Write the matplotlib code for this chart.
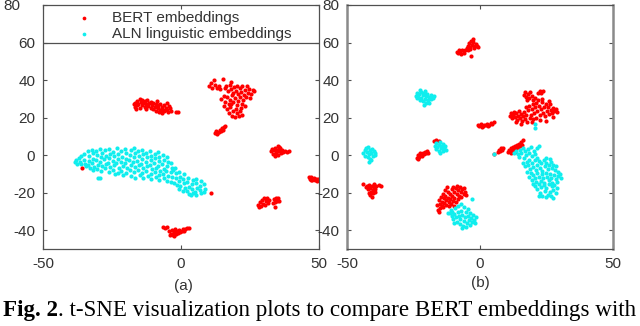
import numpy as np
import matplotlib
matplotlib.use("Agg")
import matplotlib.pyplot as plt
from matplotlib.transforms import ScaledTranslation

plt.rcParams["font.family"] = ["Liberation Sans", "DejaVu Sans"]
plt.rcParams["axes.unicode_minus"] = False

## (a) - points read cluster by cluster from the picture

bert_a_left = [(-17, 27), (-16.8, 25.5), (-16.5, 28), (-16, 26.5), (-15.8, 29), (-15.5, 27.5), (-15, 25), (-15, 30),
               (-14.6, 28.5), (-14.2, 26.8), (-14, 29.5), (-13.6, 27.8), (-13.2, 25.8), (-13, 28.7), (-12.6, 27),
               (-12.2, 29.2), (-12, 26), (-11.5, 27.6), (-11, 25), (-11, 28.5), (-10.5, 26.5), (-10, 24.5), (-10, 28),
               (-9.6, 25.8), (-9.2, 27.2), (-9, 23.5), (-8.8, 29), (-8.5, 25), (-8.2, 26.8), (-8, 23), (-7.6, 24.2),
               (-7.5, 27.5), (-7, 25.6), (-7, 22.5), (-6.6, 24), (-6.2, 26.5), (-6, 23.4), (-5.6, 25), (-5.2, 27.8),
               (-5, 24.2), (-4.6, 22.8), (-4.5, 26), (-4, 25), (-3.5, 23.5), (-16.2, 24.8), (-2, 23), (-1.2, 23.2),
               (-12.8, 24.5)]

bert_a_top = [(10.2, 37), (10.8, 38.4), (11.4, 36), (12, 40), (12.4, 37.6), (13, 35.6), (13.6, 36.8), (14.2, 35),
              (15.3, 40.5), (16, 36), (18, 39),
              (16.4, 36.8), (17, 34), (17.6, 37.4), (18.2, 35.2), (18.8, 33), (19.2, 36.4), (19.8, 34.4), (20.2, 37),
              (20.8, 32.6), (21.2, 35.6), (21.8, 33.8), (22.2, 36.6), (22.8, 32), (23.2, 34.8), (23.8, 36.8),
              (24.2, 33.2), (24.8, 35.4), (25.4, 32.6), (26, 34.6), (26.6, 34.2), (25, 30.4), (23.6, 30.8),
              (14.6, 30), (15.4, 31.6), (16, 28.4), (16.6, 30.8), (17.2, 27.2), (17.8, 29.6), (18.4, 31.8),
              (19, 28.2), (19.6, 30.4), (20.2, 26.6), (20.8, 29), (21.4, 31.2), (22, 27.4), (22.6, 29.6),
              (23.2, 26.2), (15.6, 26.4), (21.8, 25.2),
              (16.6, 24.6), (17.2, 22.4), (17.8, 25.4), (18.4, 21), (18.8, 23.6), (19.4, 20.2), (19.8, 24.8),
              (20.4, 22.2), (21, 20.6), (21.4, 23.6), (22, 21.4), (18, 27)]

bert_a_small = [(12.4, 11.6), (12.8, 12.6), (13.2, 11.2), (13.6, 12.4), (14, 13.4), (14.4, 12.6), (14.8, 14.2),
                (15.2, 13.6), (15.6, 15), (16, 15.6), (13, 12)]

bert_a_right = [(32.5, 2), (33, 3.5), (33.4, 0.8), (33.8, 2.6), (34.2, 4), (34.4, 1.4), (34.8, 3), (35, 0.2),
                (35.2, 5), (35.6, 2), (36, 3.6), (36.2, 1), (36.6, 2.6), (37, 1.8), (37.6, 2.4), (38.4, 1.8),
                (39, 2.2), (34, -0.5), (35.5, 4.2)]

bert_a_edge = [(46.2, -11.8), (46.8, -12.6), (47.2, -11.6), (47.6, -13), (48, -12.2), (48.4, -13.4), (48.8, -12.6),
               (49.2, -13.6), (49.6, -12.8), (47, -13.4)]

bert_a_mid = [(28, -26.5), (28.6, -25), (29, -27), (29.4, -24), (29.8, -25.8), (30.2, -23), (30.4, -26.6),
              (30.8, -24.6), (31.2, -22.8), (31.4, -25.6), (31.8, -24), (28.4, -27.8),
              (33.6, -23.4), (34, -25), (34.4, -22.6), (34.8, -24.2), (35.2, -23), (35.6, -24.6), (34.2, -27.4),
              (33.2, -25.6)]

bert_a_bottom = [(-6.4, -38.2), (-5.8, -38.6), (-5.2, -38.4), (-4.4, -40.6), (-3.8, -41.8), (-3.4, -40), (-3, -42.6),
                 (-2.6, -41.2), (-2.2, -39.6), (-1.8, -42), (-1.4, -40.6), (-1, -41.6), (-0.6, -39.8), (-0.2, -41),
                 (0.2, -40.2), (0.6, -39.4), (1, -40.4), (1.4, -39.6), (2, -39), (2.8, -38.6), (-4, -42.8),
                 (-2.4, -43)]

bert_a_single = [(-36, -6.6), (11, -20.4)]

aln_a_band = [(-38.5, -3.5), (-38, -2.5), (-37.6, -4.6),
              (-36.8, -1.5), (-36.5, -3.8), (-36.4, -4.8), (-36.2, -0.3),
              (-35.2, 0.8), (-35, -2.6), (-34.8, -4.5), (-34.6, -6),
              (-33.8, 2), (-33.5, -0.5), (-33.2, -3), (-33.6, -5.4), (-33, -7),
              (-32.2, 3), (-32, 1), (-31.8, -1.8), (-32.4, -4), (-31.6, -6.2), (-32, -8),
              (-30.7, 2.4), (-30.4, 0), (-30.8, -2.8), (-30.2, -5), (-30.6, -7.6), (-30, -12), (-29.4, -12.2),
              (-29.2, 3.4), (-28.8, 1.2), (-29, -1), (-29.4, -3.6), (-28.6, -6), (-29, -8.2),
              (-27.6, 2.6), (-27.3, -0.2), (-27.8, -2.2), (-27.2, -4.6), (-27.6, -7),
              (-26.2, 3.2), (-25.8, 0.8), (-26, -1.6), (-26.4, -4), (-25.6, -6.4), (-26, -9),
              (-24.6, 1.8), (-24.3, -0.6), (-24.8, -3), (-24.2, -5.4), (-24.6, -8), (-24, -10),
              (-23.2, 3.6), (-22.8, 0.4), (-23, -2), (-23.4, -4.4), (-22.6, -6.8), (-23, -9.4),
              (-21.6, 2.2), (-21.3, -0.8), (-21.8, -3.4), (-21.2, -5.8), (-21.6, -8.2), (-21, -10.6),
              (-20.2, 3.4), (-19.8, 1), (-20, -1.8), (-20.4, -4.2), (-19.6, -7), (-20, -9.6),
              (-18.6, 0), (-18.3, 2.6), (-18.8, -2.6), (-18.2, -5), (-18.6, -7.8), (-18, -11),
              (-17.2, 3.8), (-16.8, 1.2), (-17, -1.2), (-17.4, -3.8), (-16.6, -6.2), (-17, -9), (-16.8, -12),
              (-15.6, 2), (-15.3, -0.6), (-15.8, -3), (-15.2, -5.4), (-15.6, -8), (-15, -10.4),
              (-14.2, 2.8), (-13.8, 0.4), (-14, -2), (-14.4, -4.6), (-13.6, -7), (-14, -9.4), (-13.8, -12.4),
              (-12.6, 1.4), (-12.3, -1), (-12.8, -3.6), (-12.2, -6), (-12.6, -8.6), (-12, -11),
              (-11.2, 2.4), (-10.8, -0.2), (-11, -2.6), (-11.4, -5), (-10.6, -7.4), (-11, -10), (-10.8, -12.8),
              (-9.6, 0.8), (-9.3, -1.6), (-9.8, -4), (-9.2, -6.6), (-9.6, -9), (-9, -11.6),
              (-8.2, 1.6), (-7.8, -1), (-8, -3.2), (-8.4, -5.8), (-7.6, -8.2), (-8, -10.6), (-7.8, -13.4),
              (-6.6, 0), (-6.3, -2.4), (-6.8, -4.8), (-6.2, -7.2), (-6.6, -9.8), (-6, -12.2),
              (-5.2, -1), (-4.8, -3.6), (-5, -6), (-5.4, -8.4), (-4.6, -11), (-5, -13.6),
              (-3.6, -4.4), (-3.3, -6.8), (-3.8, -9.2), (-3.2, -11.8), (-3.6, -14.4), (-3, -8),
              (-2.2, -7), (-1.8, -9.4), (-2, -12), (-2.4, -14.8), (-1.6, -16),
              (-0.6, -9), (-0.3, -11.4), (-0.8, -13.8), (-0.2, -16.2), (-0.6, -18),
              (1.2, -10), (0.8, -12.6), (1, -15), (1.4, -17.4), (0.6, -19),
              (2.6, -12), (2.3, -14.4), (2.8, -16.8), (2.2, -19.2), (2.8, -20.6),
              (4.2, -13.2), (3.8, -15.6), (4, -18), (4.4, -20.4), (3.6, -21.4),
              (5.6, -12.6), (5.3, -15), (5.8, -17.4), (5.2, -19.6), (5.6, -21.2),
              (7.2, -14), (6.8, -16.4), (7, -18.6), (7.4, -20.4),
              (8.4, -15.6), (8.6, -17.8), (8.2, -19.6)]

## (b)

bert_b_top = [(-8.6, 55.2), (-8.2, 54.2), (-7.8, 56), (-7.4, 55), (-7, 54), (-6.6, 55.8), (-6.2, 54.6), (-5.8, 56.2),
              (-3.4, 52.8), (-4.6, 58), (-4, 59.6), (-3.6, 57.4), (-3.2, 61), (-3, 58.6), (-2.6, 60.2), (-2.4, 57),
              (-2, 58.2), (-1.6, 59.4), (-1.2, 58), (-0.8, 57.6), (-3.8, 56.4), (-2.8, 62), (-5, 57), (-4.4, 56)]

bert_b_big = [(16.4, 32), (17, 33.6), (17.4, 31), (18, 32.6), (18.4, 30.2), (18.8, 33.8), (19.4, 31.4), (19.8, 29.6),
              (17.6, 29.4), (21.8, 33), (22.4, 34.4), (23, 33.2), (23.6, 34), (20.6, 30.4),
              (11.2, 21), (11.6, 22.6), (12, 19.6), (12.4, 21.6), (12.8, 23), (13.2, 20.4), (13.6, 22.2), (14, 18.6),
              (14.2, 21), (14.6, 23.4), (15, 19.8), (15.4, 22), (15.8, 18), (16.2, 20.6), (16.6, 22.8), (17, 19.2),
              (17.4, 21.4), (17.8, 17.4), (13.4, 17.8), (15.6, 16.8),
              (18.2, 23.8), (18.6, 26), (19, 21.6), (19.4, 24.6), (19.8, 27.2), (20.2, 22.6), (20.6, 25.4), (21, 20),
              (21.2, 27.8), (21.6, 23.6), (22, 26), (22.4, 21.4), (22.8, 24.6), (23.2, 28.4), (23.6, 22.6),
              (24, 25.6), (24.4, 20.6), (24.8, 27), (25.2, 23.6), (25.6, 25.8), (26, 21.8), (26.4, 27.2),
              (26.8, 24.2), (27.2, 22.4), (27.6, 25.2), (28, 23.4), (28.6, 24.6), (29, 22.8), (20, 19.4),
              (22.6, 18.6), (25, 18.2), (23.4, 30), (26, 29), (21.8, 29.6), (19.6, 17.6), (18.8, 19.8),
              (27.6, 20.2), (17.2, 25.6)]

bert_b_small = [(-0.8, 16.2), (-0.2, 15.6), (0.4, 16.6), (1, 15.4), (1.6, 16.2), (2.2, 15.8), (2.8, 16.8),
                (3.4, 16.2), (4, 17.2), (4.6, 16.8), (5.2, 17.6), (0.6, 15), (3, 15.6)]

bert_b_left = [(-23.6, -1.4), (-23.2, 0), (-22.8, -0.8), (-22.6, 1), (-22.2, 0.2), (-21.8, -0.4), (-21.6, 1.4),
               (-21.2, 0.6), (-20.8, 1.6), (-20.4, 1), (-20, 2), (-19.6, 1.4), (-23.4, -2),
               (-17.4, 7.8), (-16.6, 8), (-15.6, 7.6)]

bert_b_far = [(-43.8, -15.4), (-43, -17), (-42.4, -16.4), (-42, -18.2), (-41.6, -15.8), (-41.4, -17.6),
              (-41, -19.4), (-40.6, -16.4), (-40.4, -18.6), (-40, -17.2), (-39.8, -15.2), (-39.4, -18),
              (-39, -16.6), (-38, -15.8), (-37.4, -16.6), (-41.2, -21.4), (-40.6, -22.2), (-40.2, -20.4),
              (-41.8, -20), (-39.6, -19.6)]

bert_b_low = [(-15.6, -24), (-15.2, -26), (-15, -28.4), (-14.8, -22.4), (-14.4, -24.8), (-14.2, -27), (-14, -20.6),
              (-13.6, -23), (-13.4, -25.6), (-13, -21.6), (-12.8, -24), (-12.6, -26.4), (-12.2, -19.4),
              (-12, -22.6), (-11.8, -25), (-11.4, -20.6), (-11.2, -23.6), (-10.8, -26), (-10.6, -18.2),
              (-10.4, -21.8), (-10, -24.2), (-9.8, -19.6), (-9.6, -22.6), (-9.2, -25), (-9, -17.6), (-8.8, -20.8),
              (-8.4, -23.4), (-8.2, -18.8), (-7.8, -21.6), (-7.6, -17), (-7.2, -19.8), (-7, -22.4), (-6.6, -18.2),
              (-6.2, -20.6), (-6, -17.4), (-5.6, -19.4), (-5.4, -21.4), (-12.4, -17), (-15.8, -29.2),
              (-15.4, -30.4), (-13.8, -27.8), (-11.6, -27.2), (-9.8, -27), (-10.2, -16.8), (-13.2, -18.6),
              (-8.6, -16.2), (-16, -26.6)]

bert_b_diag = [(5.2, 0.5), (6.8, 1.6), (7.2, 2.8), (7.6, 2), (8, 3.6), (8.4, 2.6), (8.8, 4),
               (10.4, 1.6), (10.8, 3), (11.2, 2.2), (11.6, 3.8), (12, 2.6), (12.4, 4.4), (12.8, 3.2), (13.2, 5),
               (13.6, 3.8), (14, 5.6), (14.4, 4.4), (14.8, 6.2), (15.2, 5), (15.6, 6.8), (15.8, 5.6), (16, 8),
               (11.8, 1.4), (13, 1.8)]

aln_b_up = [(-24.2, 31.6), (-23.8, 30.2), (-23.6, 33), (-23.2, 31), (-22.8, 32.4), (-22.6, 29.4), (-22.2, 33.8),
            (-22, 30.6), (-21.6, 31.8), (-21.4, 28.6), (-21, 33), (-20.8, 30), (-20.4, 31.4), (-20.2, 27.6),
            (-19.8, 32.6), (-19.6, 29.2), (-19.2, 30.8), (-19, 28), (-18.6, 32), (-18.4, 29.8), (-18, 31.2),
            (-17.6, 30.2), (-17.2, 31.6), (-21.2, 26.8), (-22.4, 34.6), (-20.6, 34.2)]

aln_b_far = [(-43.8, 1), (-43.4, 2.6), (-43.2, -0.4), (-42.8, 3.6), (-42.6, 1.6), (-42.2, -1), (-42, 4.2),
             (-41.8, 0.4), (-41.4, 2.8), (-41.2, -2), (-40.8, 1.2), (-40.6, 3.4), (-40.4, -0.6), (-40, 2),
             (-39.6, 0), (-39.4, 1.4), (-41.6, -3.4), (-40.8, -2.6)]

aln_b_mid = [(-17, 5), (-16.6, 3.2), (-16.4, 6.6), (-16, 4.4), (-15.6, 2.4), (-15.4, 5.6), (-15, 7), (-14.8, 3.6),
             (-14.4, 5), (-14, 2), (-13.8, 6.2), (-13.4, 3.8), (-13, 4.8), (-12.6, 2.8), (-15.2, 1.4)]

aln_b_low = [(-11.4, -31), (-11, -29.4), (-10.6, -32.6), (-10.4, -30.2), (-10, -34), (-9.6, -31.4), (-9.4, -28.4),
             (-9, -33), (-8.8, -35.4), (-8.4, -30.4), (-8.2, -27), (-8, -32.4), (-7.6, -36.6), (-7.4, -34),
             (-7, -29.6), (-6.8, -31.8), (-6.4, -37.6), (-6.2, -35.2), (-6, -27.8), (-5.8, -33.2), (-5.4, -30.4),
             (-5.2, -38.4), (-5, -36), (-4.6, -32.4), (-4.4, -28.8), (-4.2, -34.6), (-3.8, -37.2), (-3.6, -30.8),
             (-3.2, -33.6), (-3, -35.8), (-2.6, -32), (-2.2, -34.4), (-1.8, -36.4), (-1.4, -33), (-3, -23.6),
             (-7.2, -26), (-9.8, -36.4), (-12, -30.6), (-6.6, -39)]

aln_b_big = [(12.8, 1), (13.6, 2), (14.4, 0.6), (15, 3), (15.6, 1.4), (16.2, 4), (16.8, 2.2), (17.4, 0.2), (18, 3.2),
             (18.6, 1.4), (19.2, 4.6), (19.6, -0.6), (20.2, 2.4), (20.8, 0.8), (21.4, 3.6), (22.2, 5), (21.6, -1.4),
             (16.4, -1.6), (18.4, -2.6), (14.8, -0.8),
             (16, -4), (17, -6), (17.6, -3.4), (18.2, -5.2), (18.8, -7.6), (19.4, -4), (20, -6.2), (20.6, -2.6),
             (21, -8), (21.4, -5), (22, -3.2), (22.4, -6.8), (23, -4.4), (23.4, -8.4), (24, -2.8), (24.4, -6),
             (25, -4), (25.4, -7.6), (26, -5.4), (26.6, -3.4), (27, -7), (27.6, -5), (28.2, -8), (28.6, -6),
             (29.2, -9), (24.8, -1.4), (26.4, -1.8), (19, -9.4), (17.6, -9),
             (18.4, -11.6), (19.4, -13), (20, -10.4), (20.6, -12.4), (21.2, -14.4), (21.6, -9.6), (22.2, -11.6),
             (22.8, -13.6), (23.2, -10), (23.8, -12), (24.2, -14.6), (24.8, -9.6), (25.2, -11.8), (25.8, -13.4),
             (26.2, -10.2), (26.8, -12.2), (27.2, -14.8), (27.8, -10.4), (28.4, -12.6), (28.8, -14.2), (29.4, -11),
             (30.2, -10), (30.6, -12.4), (19.8, -15.4),
             (20.6, -16.6), (21.4, -18), (22, -15.6), (22.4, -20), (23, -17.2), (23.4, -21.6), (24, -16),
             (24.4, -19), (25, -17.6), (25.4, -21), (26, -15.4), (26.4, -19.6), (27, -16.6), (27.4, -18.4),
             (28, -15.8), (28.4, -20.4), (22.2, -22), (24.8, -22.4), (26.8, -21.8), (29, -17.4), (27.6, -22.6)]

aln_b_single = [(5.2, 0.5), (20.8, 16.6), (20.6, 14.4)]

bert_a = np.array(bert_a_left + bert_a_top + bert_a_small + bert_a_right + bert_a_edge
                  + bert_a_mid + bert_a_bottom)
bert_a_out = np.array(bert_a_single)
aln_a = np.array(aln_a_band)
bert_b = np.array(bert_b_top + bert_b_big + bert_b_small + bert_b_left + bert_b_far + bert_b_low + bert_b_diag)
aln_b = np.array(aln_b_up + aln_b_far + aln_b_mid + aln_b_low + aln_b_big + aln_b_single)

red = "#ff0000"
cyan = "#10eeee"
dot = 9
edge = "#505050"

fig = plt.figure(figsize=(6.4, 3.26), dpi=100)
ax_a = fig.add_axes([0.0672, 0.2362, 0.4313, 0.7485])
ax_b = fig.add_axes([0.5422, 0.2362, 0.4156, 0.7485])

ax_a.scatter(bert_a[:, 0], bert_a[:, 1], s=dot, c=red, linewidths=0, label="BERT embeddings")
ax_a.scatter(aln_a[:, 0], aln_a[:, 1], s=dot, c=cyan, linewidths=0, label="ALN linguistic embeddings")
ax_a.scatter(bert_a_out[:, 0], bert_a_out[:, 1], s=dot, c=red, linewidths=0)   # strays on top of the band
ax_b.scatter(bert_b[:, 0], bert_b[:, 1], s=dot, c=red, linewidths=0)
ax_b.scatter(aln_b[:, 0], aln_b[:, 1], s=dot, c=cyan, linewidths=0)

for ax in (ax_a, ax_b):
    ax.set_xlim(-50, 50)
    ax.set_ylim(-50, 80)
    ax.set_xticks([-50, 0, 50])
    ax.set_yticks([-40, -20, 0, 20, 40, 60, 80])
    ax.tick_params(direction="in", length=3, width=0.8, top=True, right=True,
                   color=edge, labelcolor="#333333", labelsize=11, pad=5.5)
    for sp in ax.spines.values():
        sp.set_color(edge)
        sp.set_linewidth(0.9)

ax_b.spines["left"].set_color("#8a8a8a")
ax_b.spines["left"].set_linewidth(1.8)
ax_b.spines["right"].set_color("#8a8a8a")
ax_b.spines["right"].set_linewidth(1.8)

# legend box of panel (a) runs down to the y=60 line
ax_a.axhline(60, color=edge, lw=0.9)
ax_a.legend(loc="upper left", bbox_to_anchor=(0.072, 1.0), borderaxespad=0, frameon=False,
            fontsize=11, labelspacing=0.15, handletextpad=0.8, scatterpoints=1, markerscale=0.9,
            labelcolor="#333333")

# the "80" label on the left panel sits further left in the original
lab80 = ax_a.get_yticklabels()[-1]
lab80.set_transform(lab80.get_transform() + ScaledTranslation(-0.15, 0, fig.dpi_scale_trans))

fig.text(0.286, 0.123, "(a)", ha="center", va="center", fontsize=11, color="#333333")
fig.text(0.75, 0.132, "(b)", ha="center", va="center", fontsize=11, color="#333333")

cap1 = fig.text(0.004, 0.031, "Fig. 2", family="Liberation Serif", weight="bold", fontsize=16.6)
renderer = fig.canvas.get_renderer()
bb = cap1.get_window_extent(renderer)
fig.text(bb.x1 / fig.bbox.width, 0.031, ". t-SNE visualization plots to compare BERT embeddings with",
         family="Liberation Serif", fontsize=16.6)

fig.savefig("out.png", dpi=100)
